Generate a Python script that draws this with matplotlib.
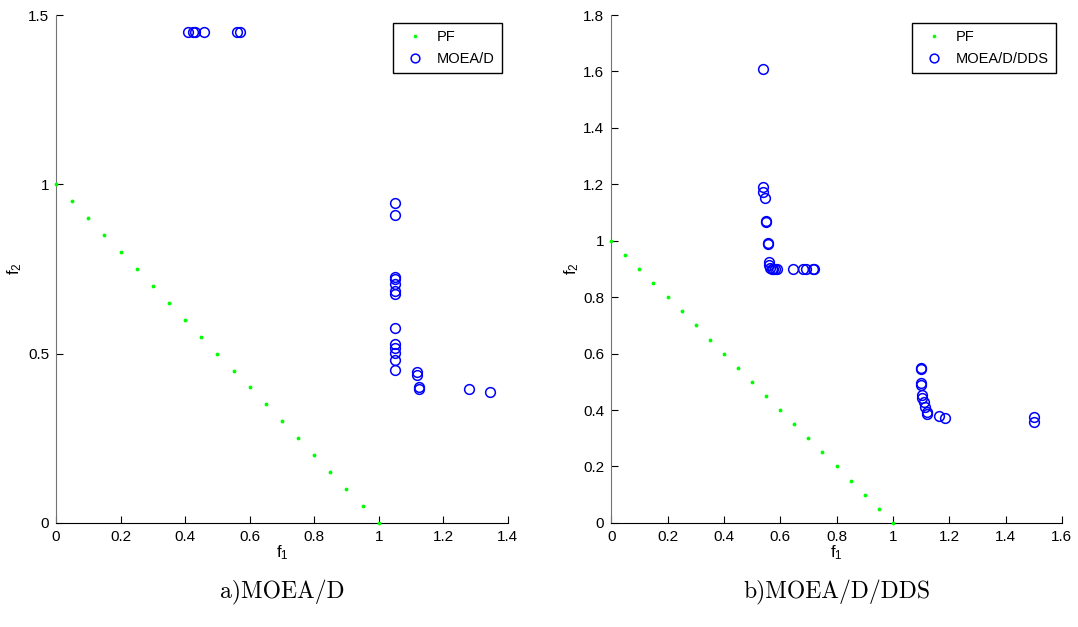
import matplotlib as mplt
import matplotlib.pyplot as plt

mplt.rc('font', family='Liberation Sans')
mplt.rc('xtick', labelsize=11)
mplt.rc('ytick', labelsize=11)

# true Pareto front
pf_f1 = [0.0, 0.05, 0.1, 0.15, 0.2, 0.25, 0.3, 0.35, 0.4, 0.45, 0.5,
         0.55, 0.6, 0.65, 0.7, 0.75, 0.8, 0.85, 0.9, 0.95, 1.0]
pf_f2 = [1.0, 0.95, 0.9, 0.85, 0.8, 0.75, 0.7, 0.65, 0.6, 0.55, 0.5,
         0.45, 0.4, 0.35, 0.3, 0.25, 0.2, 0.15, 0.1, 0.05, 0.0]

# MOEA/D result
a_f1 = [0.41, 0.425, 0.43, 0.46, 0.56, 0.57,
        1.05, 1.05, 1.05, 1.05, 1.05, 1.05, 1.05, 1.05, 1.05, 1.05, 1.05, 1.05, 1.05,
        1.12, 1.12, 1.125, 1.125, 1.28, 1.345]
a_f2 = [1.45, 1.45, 1.45, 1.45, 1.45, 1.45,
        0.945, 0.91, 0.725, 0.72, 0.705, 0.685, 0.675, 0.577, 0.527, 0.517, 0.502, 0.48, 0.452,
        0.446, 0.436, 0.402, 0.396, 0.396, 0.387]

# MOEA/D/DDS result
b_f1 = [0.54, 0.54, 0.54, 0.545, 0.55, 0.55, 0.555, 0.555, 0.56, 0.56, 0.565,
        0.57, 0.575, 0.58, 0.59, 0.645, 0.68, 0.69, 0.715, 0.72,
        1.1, 1.1, 1.1, 1.1, 1.105, 1.105, 1.11, 1.115, 1.12, 1.12, 1.165, 1.185,
        1.5, 1.5]
b_f2 = [1.61, 1.19, 1.173, 1.15, 1.07, 1.066, 0.993, 0.99, 0.925, 0.914, 0.905,
        0.9, 0.9, 0.9, 0.9, 0.9, 0.9, 0.9, 0.9, 0.899,
        0.55, 0.547, 0.496, 0.489, 0.454, 0.443, 0.429, 0.411, 0.393, 0.386, 0.379, 0.372,
        0.376, 0.358]

fig = plt.figure(figsize=(10.78, 6.27), dpi=100)
ax1 = fig.add_axes([0.052, 0.166, 0.419, 0.81])
ax2 = fig.add_axes([0.567, 0.166, 0.418, 0.81])

panels = [(ax1, a_f1, a_f2, 'MOEA/D', 1.4, 1.5, 0.5, 0.2, 'a)MOEA/D', 32),
          (ax2, b_f1, b_f2, 'MOEA/D/DDS', 1.6, 1.8, 0.2, 0.2, 'b)MOEA/D/DDS', 30)]

for ax, xs, ys, lab, xmax, ymax, ystep, xstep, cap, ylab_px in panels:
    ax.plot(pf_f1, pf_f2, '.', color=(0, 1, 0), ms=3.5, label='PF', clip_on=False, zorder=5)
    ax.plot(xs, ys, 'o', mfc='none', mec='blue', ms=7, mew=1.1, label=lab)
    ax.set_xlim(0, xmax)
    ax.set_ylim(0, ymax)
    nx = int(round(xmax / xstep))
    ax.set_xticks([i * xstep for i in range(nx + 1)])
    ny = int(round(ymax / ystep))
    ax.set_yticks([i * ystep for i in range(ny + 1)])
    ax.xaxis.set_major_formatter(mplt.ticker.FuncFormatter(lambda v, p: ('%g' % round(v, 2))))
    ax.yaxis.set_major_formatter(mplt.ticker.FuncFormatter(lambda v, p: ('%g' % round(v, 2))))
    ax.spines['top'].set_visible(False)
    ax.spines['right'].set_visible(False)
    ax.spines['left'].set_color('0.45')
    ax.spines['bottom'].set_color('black')
    ax.tick_params(direction='in', length=5, width=0.8, pad=5)
    ax.set_xlabel(r'$\mathregular{f_1}$', fontsize=12)
    ax.xaxis.set_label_coords(0.5, -0.04)
    ax.set_ylabel(r'$\mathregular{f_2}$', fontsize=12)
    w_px = ax.get_position().width * 1078
    ax.yaxis.set_label_coords(-ylab_px / w_px, 0.5)
    leg = ax.legend(loc='upper right', bbox_to_anchor=(0.987, 0.984), borderaxespad=0,
                    fontsize=10.5, fancybox=False, edgecolor='black', framealpha=1,
                    numpoints=1, handletextpad=0.5, borderpad=0.5, labelspacing=0.5,
                    markerscale=0.9)
    leg.get_frame().set_linewidth(1.0)
    ax.text(0.5, -0.136, cap, transform=ax.transAxes, ha='center', va='center',
            fontsize=17, family='cmr10')

plt.savefig('out.png', dpi=100)
